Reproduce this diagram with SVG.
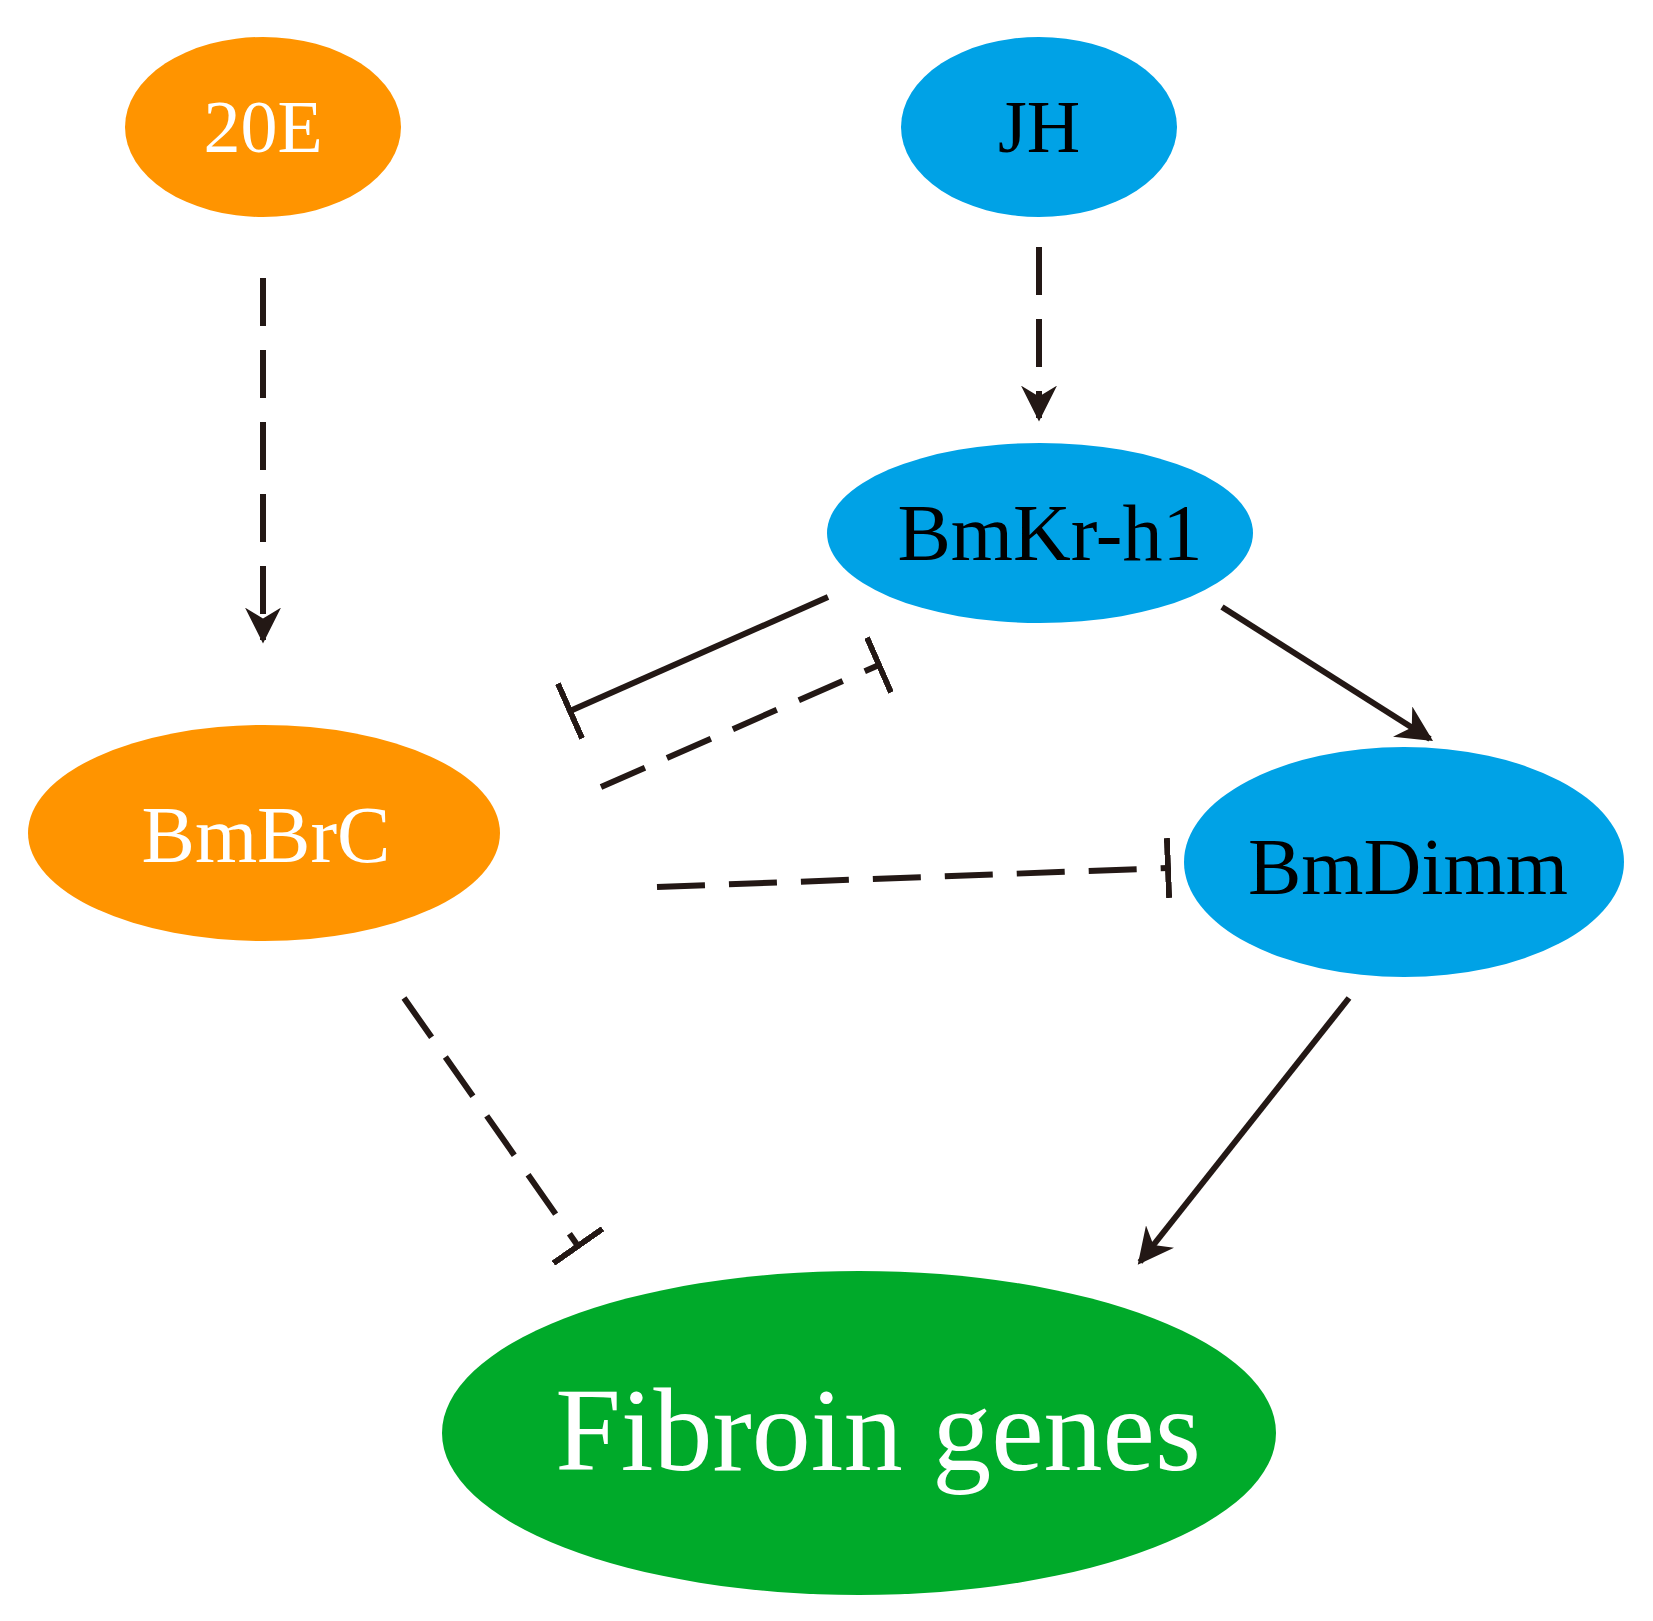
<svg xmlns="http://www.w3.org/2000/svg" width="1653" height="1621" viewBox="0 0 1653 1621">
<style>
.o{fill:#FF9400}.b{fill:#00A2E6}.g{fill:#00AA2A}
text{font-family:"Liberation Serif","Times New Roman",serif;text-anchor:middle}
.c{stroke:#231815;stroke-width:6;fill:none}
.d{stroke-dasharray:48,24}
</style>
<defs>
<marker id="a" viewBox="0 0 10 10" refX="9" refY="5" markerWidth="6" markerHeight="6" markerUnits="strokeWidth" orient="auto"><path d="M0,0 L10,5 L0,10 L3,5 Z" fill="#231815"/></marker>
<marker id="t" viewBox="0 0 4 14" refX="2" refY="7" markerWidth="4" markerHeight="14" markerUnits="userSpaceOnUse" orient="auto"><rect x="0" y="0" width="4" height="14" fill="#231815"/></marker>
<marker id="tb" viewBox="0 0 1 10" refX="0.5" refY="5" markerWidth="1" markerHeight="10" markerUnits="strokeWidth" orient="auto"><rect x="0" y="0" width="1" height="10" fill="#231815"/></marker>
</defs>
<rect width="1653" height="1621" fill="#fff"/>
<g id="n20E"><ellipse class="o" cx="263" cy="127" rx="138" ry="90"/><text x="263" y="152" font-size="74" fill="#fff">20E</text></g>
<g id="nJH"><ellipse class="b" cx="1039" cy="127" rx="138" ry="90"/><text x="1039" y="152" font-size="74" fill="#000">JH</text></g>
<g id="nKr"><ellipse class="b" cx="1040" cy="533" rx="213" ry="90"/><text x="1050" y="560" font-size="80" fill="#000">BmKr-h1</text></g>
<g id="nBrC"><ellipse class="o" cx="264" cy="833" rx="236" ry="108"/><text x="266" y="862" font-size="80" fill="#fff">BmBrC</text></g>
<g id="nDimm"><ellipse class="b" cx="1404" cy="862" rx="220" ry="115"/><text x="1408" y="894" font-size="80" fill="#000">BmDimm</text></g>
<g id="nFib"><ellipse class="g" cx="859" cy="1433" rx="417" ry="162"/><text x="878" y="1470" font-size="118" fill="#fff">Fibroin genes</text></g>
<g id="connectors">
<line class="c d" x1="263" y1="278" x2="263" y2="640" marker-end="url(#a)"/>
<line class="c d" x1="1039" y1="247" x2="1039" y2="418" marker-end="url(#a)"/>
<line class="c" x1="828" y1="597" x2="570" y2="711" marker-end="url(#tb)"/>
<line class="c d" x1="601" y1="787" x2="879" y2="665" marker-end="url(#tb)"/>
<line class="c" x1="1222" y1="607" x2="1430" y2="739" marker-end="url(#a)"/>
<line class="c d" x1="657" y1="887" x2="1168" y2="868" marker-end="url(#tb)"/>
<line class="c d" x1="404" y1="998" x2="578" y2="1246" marker-end="url(#tb)"/>
<line class="c" x1="1349" y1="998" x2="1140" y2="1262" marker-end="url(#a)"/>
</g>
</svg>
